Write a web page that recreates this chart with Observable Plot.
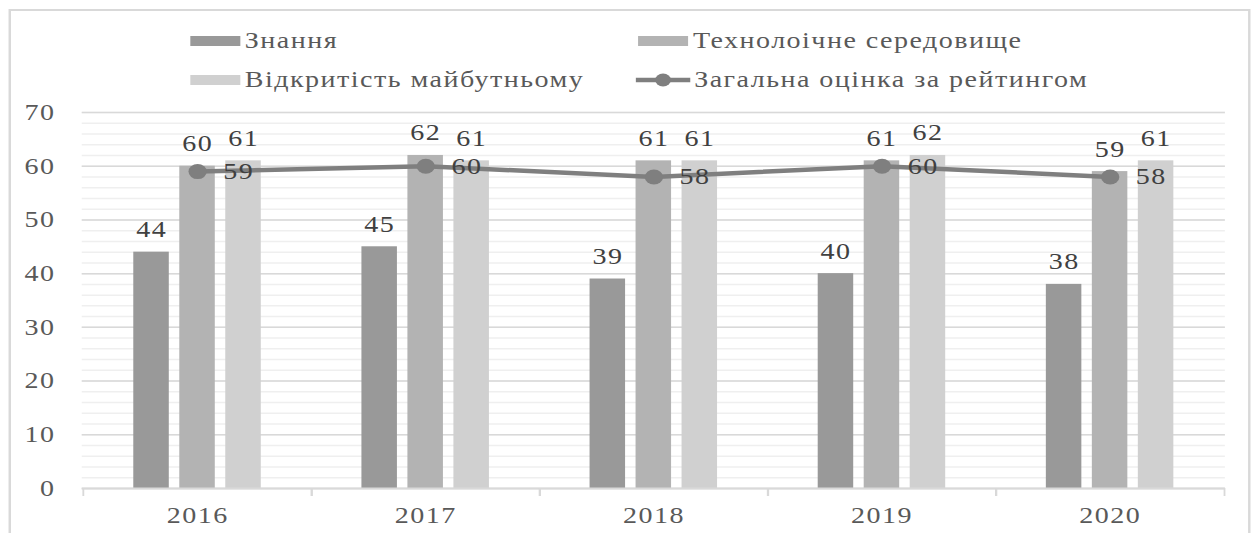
<!DOCTYPE html>
<html><head><meta charset="utf-8">
<script src="https://cdn.jsdelivr.net/npm/d3@7"></script>
<script src="https://cdn.jsdelivr.net/npm/@observablehq/plot@0.6"></script>
<style>
html,body{margin:0;padding:0;background:#fff;overflow:hidden}
#wrap{position:relative;width:1030px;height:533px;transform:scaleX(1.22);transform-origin:0 0;font-family:"Liberation Serif","Times New Roman",serif}
#frame{position:absolute;left:6.5px;top:9px;width:1018px;height:600px;border:2px solid #d9d9d9;box-sizing:border-box;pointer-events:none}
#legend{position:relative;height:100px}
.item{position:absolute;height:28px;display:flex;align-items:center;font-family:"Liberation Serif","Times New Roman",serif;font-size:23px;letter-spacing:1.2px;color:#595959;white-space:nowrap}
.sw{width:41px;height:10px;margin-right:4px}
#chart svg{display:block}
</style></head><body>
<div id="wrap"><div id="frame"></div><div id="legend"></div><div id="chart"></div></div>
<script>
const years = ["2016","2017","2018","2019","2020"];
const knowledge = [44,45,39,40,38];
const technology = [60,62,61,61,59];
const openness = [61,61,61,62,61];
const overall = [59,60,58,60,58];
const seriesNames = ["Знання","Технолоічне середовище","Відкритість майбутньому","Загальна оцінка за рейтингом"];
const barKeys = ["knowledge","technology","openness"];
const barColors = ["#999999","#b3b3b3","#d0d0d0"];
const lineColor = "#7f7f7f";

const rows = years.map((year, i) => ({year, knowledge: knowledge[i], technology: technology[i], openness: openness[i], overall: overall[i]}));

// Legend (2 x 2 grid, Excel-like)
const legend = document.getElementById("legend");
const legendPos = [[155.7, 27], [523, 27], [155.7, 66], [521, 66]];
seriesNames.forEach((name, i) => {
  const el = document.createElement("div");
  el.className = "item";
  el.style.left = legendPos[i][0] + "px";
  el.style.top = legendPos[i][1] + "px";
  if (i < 3) {
    const sw = document.createElement("span");
    sw.className = "sw";
    sw.style.background = barColors[i];
    el.appendChild(sw);
  } else {
    el.insertAdjacentHTML("beforeend", `<svg width="45" height="16" style="margin-right:3px"><line x1="0" x2="45" y1="8" y2="8" stroke="${lineColor}" stroke-width="4.5"/><circle cx="22.5" cy="8" r="6.5" fill="${lineColor}"/></svg>`);
  }
  const t = document.createElement("span");
  t.textContent = name;
  el.appendChild(t);
  legend.appendChild(el);
});

const W = 1030, H = 433, mt = 12, mb = 45, ml = 67, mr = 26;
const band = (W - ml - mr) / years.length;
const barW = 29.5, step = 37.7;
const inset = (band - barW) / 2;
const offsets = [-step, 0, step];
const font = {fontSize: 23, fontFamily: "'Liberation Serif', 'Times New Roman', serif"};

const marks = [
  Plot.gridY({interval: 2, stroke: "#efefef", strokeOpacity: 1, strokeWidth: 1.5}),
  Plot.gridY({interval: 10, stroke: "#d9d9d9", strokeOpacity: 1, strokeWidth: 1.5}),
  Plot.axisY({interval: 10, tickSize: 0, tickPadding: 22, label: null, ...font, fill: "#595959"}),
  ...barKeys.map((k, j) => Plot.barY(rows, {x: "year", y: k, fill: barColors[j], insetLeft: inset, insetRight: inset, dx: offsets[j]})),
  ...barKeys.map((k, j) => Plot.text(rows, {x: "year", y: k, text: k, dx: offsets[j], dy: -15, lineAnchor: "bottom", ...font, fill: "#404040"})),
  Plot.ruleY([0], {stroke: "#d9d9d9", strokeWidth: 2}),
  Plot.axisX({tickSize: 0, tickPadding: 18, label: null, ...font, fill: "#595959"}),
  Plot.axisX({tickSize: 8, label: null, fill: "none", stroke: "#d9d9d9", strokeWidth: 1.5, dx: -band / 2}),
  Plot.axisX({tickSize: 8, label: null, fill: "none", stroke: "#d9d9d9", strokeWidth: 1.5, dx: band / 2}),
  Plot.line(rows, {x: "year", y: "overall", stroke: lineColor, strokeWidth: 4.5}),
  Plot.dot(rows, {x: "year", y: "overall", r: 7.5, fill: lineColor}),
  Plot.text(rows, {x: "year", y: "overall", text: "overall", dx: 21, textAnchor: "start", ...font, fill: "#404040"})
];

const chart = Plot.plot({
  width: W, height: H,
  marginTop: mt, marginBottom: mb, marginLeft: ml, marginRight: mr,
  style: {background: "transparent", overflow: "visible", letterSpacing: "1.2px"},
  x: {type: "band", domain: years, padding: 0, axis: null, label: null},
  y: {domain: [0, 70], axis: null, label: null},
  marks
});
document.getElementById("chart").appendChild(chart);
</script>
</body></html>
